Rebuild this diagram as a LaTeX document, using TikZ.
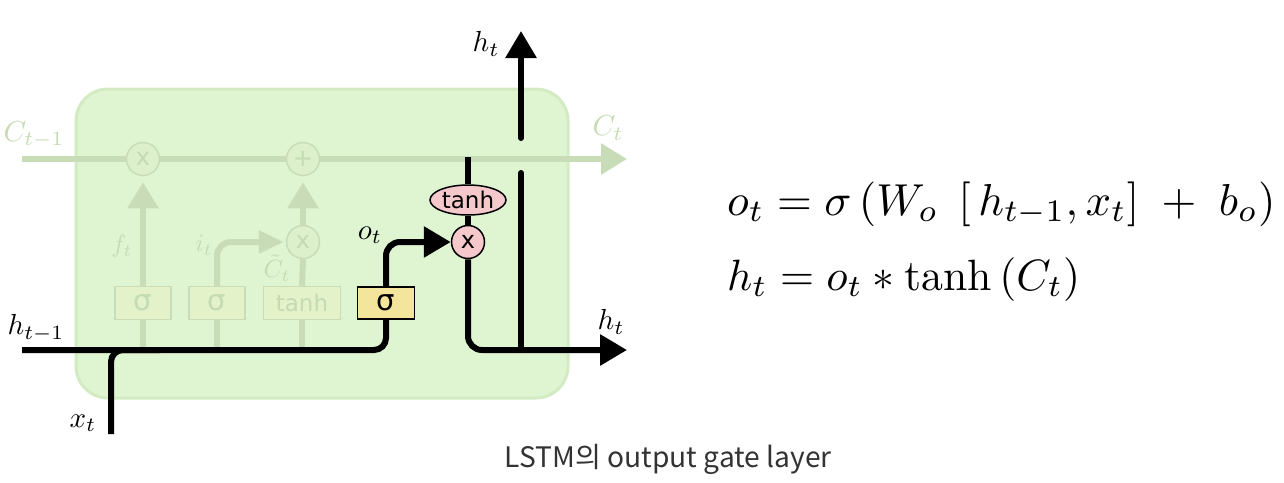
\documentclass[tikz,border=0pt]{standalone}
\usepackage{fontspec}
\usepackage{graphicx}
\usetikzlibrary{arrows.meta,shapes.geometric}
\newfontfamily\dejavu{DejaVu Sans}
\newfontfamily\krfont{Noto Sans CJK KR}
\definecolor{cellbg}{HTML}{DFF5D1}
\definecolor{cellbd}{HTML}{D3EBC2}
\definecolor{faded}{HTML}{C8DDB7}
\definecolor{fadedfill}{HTML}{DCF0CB}
\definecolor{fadedbox}{HTML}{E3F2C9}
\definecolor{fadedtext}{HTML}{C4DBB3}
\definecolor{sigyellow}{HTML}{F3E59B}
\definecolor{pinkop}{HTML}{F5C9CB}
\definecolor{captxt}{HTML}{333333}
\newcommand{\lblbig}[1]{\scalebox{2.9}{$#1$}}
\newcommand{\lblmid}[1]{\scalebox{2.5}{$#1$}}
\begin{document}
\begin{tikzpicture}[x=1pt,y=-1pt,
  fadedline/.style={draw=faded,line width=6pt},
  blackline/.style={draw=black,line width=6pt},
  bigtip/.style={-{Triangle[length=27pt,width=30pt]}},
  fadedtip/.style={-{Triangle[length=26pt,width=30pt,color=faded]}},
  smalltip/.style={-{Triangle[length=25pt,width=22pt,color=faded]}},
  fadedop/.style={circle,draw=faded,fill=fadedfill,line width=1.5pt,minimum size=33pt,inner sep=0pt,text=fadedtext,font=\dejavu\fontsize{24}{24}\selectfont},
  fadedgate/.style={rectangle,draw=faded,fill=fadedbox,line width=1.5pt,minimum height=33pt,inner sep=0pt,text=fadedtext},
  sigfont/.style={font=\dejavu\fontsize{29}{29}\selectfont},
  tanhfont/.style={font=\dejavu\fontsize{23}{23}\selectfont},
  mlabel/.style={inner sep=0pt},
  flabel/.style={inner sep=0pt,text=fadedtext},
  pinkgate/.style={draw=black,fill=pinkop,line width=1.5pt,inner sep=0pt}
]
\useasboundingbox (0,0) rectangle (1284,482);

% cell background
\node[draw=cellbd,fill=cellbg,line width=3pt,rounded corners=32pt,minimum width=492pt,minimum height=309pt,inner sep=0pt] (cell) at (322,243.5) {};

% coordinates
\coordinate (cin) at (22,159);
\coordinate (cout) at (627,159);
\coordinate (hin) at (22,350);
\coordinate (xin) at (111,434);
\coordinate (jx) at (160,350);
\coordinate (hout) at (627,350);
\coordinate (ctop) at (468,157);
\coordinate (vbot) at (521,350);
\coordinate (vgap1) at (521,173);
\coordinate (vgap2) at (521,138);
\coordinate (htop) at (521,31);
\coordinate (jf) at (143,350);
\coordinate (ji) at (217,350);
\coordinate (jc) at (302,350);

% faded cell state line
\draw[fadedline,fadedtip] (cin) -- (cout);

% faded gates
\node[fadedgate,minimum width=56pt,sigfont,text=fadedtext] (bf) at (143,303) {σ};
\node[fadedgate,minimum width=56pt,sigfont,text=fadedtext] (bi) at (217,303) {σ};
\node[fadedgate,minimum width=77pt,tanhfont,text=fadedtext] (bc) at (302,303) {tanh};
\node[fadedop] (fx) at (143,159) {x};
\node[fadedop] (fplus) at (303,159) {+};
\node[fadedop] (fix) at (303,242) {x};

\draw[fadedline] (jf) -- (bf.south);
\draw[fadedline] (ji) -- (bi.south);
\draw[fadedline] (jc) -- (bc.south);
\draw[fadedline,fadedtip,shorten >=6pt] (bf.north) -- (fx.south);
\draw[fadedline,fadedtip,shorten >=6pt] (fix.north) -- (fplus.south);
\draw[fadedline] (bc.north) -- (fix.south);
\draw[fadedline,smalltip,rounded corners=14pt,shorten >=2pt] (bi.north) |- (fix.west);

% faded labels
\node[flabel] (lct1) at (34,135) {\lblbig{C_{t-1}}};
\node[flabel] (lct) at (608,128) {\lblbig{C_t}};
\node[flabel] (lft) at (122,246) {\lblmid{f_t}};
\node[flabel] (lit) at (204,245) {\lblmid{i_t}};
\node[flabel] (lctil) at (277,268) {\lblmid{\tilde{C}_t}};

% black output gate parts
\node[rectangle,draw=black,fill=sigyellow,line width=1.5pt,minimum width=57pt,minimum height=32pt,inner sep=0pt,sigfont] (bo) at (386,303) {σ};
\node[ellipse,pinkgate,minimum width=76pt,minimum height=30pt,tanhfont] (th) at (468,200) {tanh};
\node[circle,pinkgate,minimum size=33pt,font=\dejavu\fontsize{24}{24}\selectfont] (mul) at (468,242) {x};

\draw[blackline,rounded corners=12pt] (hin) -| (bo.south);
\draw[blackline,rounded corners=12pt] (xin) |- (jx);
\draw[blackline,bigtip,rounded corners=14pt] (bo.north) |- (mul.west);
\draw[blackline] (ctop) -- (th.north);
\draw[blackline] (th.south) -- (mul.north);
\draw[blackline,bigtip,rounded corners=14pt] (mul.south) |- (hout);
\draw[blackline,line cap=round] (vbot) -- (vgap1);
\draw[blackline,line cap=round,bigtip] (vgap2) -- (htop);

% black labels
\node[mlabel] (lht1) at (36,328) {\lblbig{h_{t-1}}};
\node[mlabel] (lxt) at (83,423) {\lblbig{x_t}};
\node[mlabel] (lot) at (370,235) {\lblbig{o_t}};
\node[mlabel] (lhttop) at (486,44) {\lblbig{h_t}};
\node[mlabel] (lhtr) at (611,322) {\lblbig{h_t}};

% equations
\node[anchor=base west,inner sep=0pt] (eq1) at (727,215) {\resizebox{548pt}{!}{$o_t=\sigma\left(W_o\;\left[\,h_{t-1},x_t\right]\;+\;b_o\right)$}};
\node[anchor=base west,inner sep=0pt] (eq2) at (727,290) {\resizebox{353pt}{!}{$h_t=o_t*\tanh\left(C_t\right)$}};

% caption
\node[anchor=base,inner sep=0pt,text=captxt] (cap) at (668,467) {\resizebox{327pt}{!}{\krfont LSTM의 output gate layer}};
\end{tikzpicture}
\end{document}
